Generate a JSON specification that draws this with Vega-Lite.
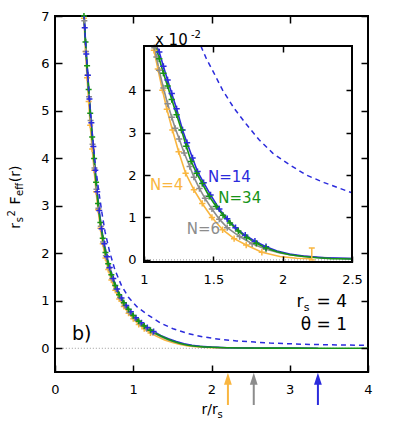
{
  "$schema": "https://vega.github.io/schema/vega-lite/v6.json",
  "width": 313,
  "height": 356,
  "autosize": {"type": "none"},
  "padding": {"left": 55, "top": 16, "right": 27, "bottom": 67},
  "config": {
    "font": "DejaVu Sans",
    "view": {"stroke": "black", "strokeWidth": 2},
    "axis": {"grid": false, "domain": false, "tickColor": "black", "tickWidth": 1.5, "labelFontSize": 13, "labelColor": "black", "labelFont": "DejaVu Sans"}
  },
  "datasets": {
    "main": [
      {"N": "4", "x": 0.355, "y": 7.5}, {"N": "4", "x": 0.37, "y": 6.95}, {"N": "4", "x": 0.39, "y": 6.25}, {"N": "4", "x": 0.41, "y": 5.7}, {"N": "4", "x": 0.43, "y": 5.2}, {"N": "4", "x": 0.45, "y": 4.7}, {"N": "4", "x": 0.475, "y": 4.2}, {"N": "4", "x": 0.5, "y": 3.75}, {"N": "4", "x": 0.525, "y": 3.3}, {"N": "4", "x": 0.55, "y": 2.92}, {"N": "4", "x": 0.58, "y": 2.53}, {"N": "4", "x": 0.61, "y": 2.2}, {"N": "4", "x": 0.645, "y": 1.9}, {"N": "4", "x": 0.68, "y": 1.66}, {"N": "4", "x": 0.72, "y": 1.44}, {"N": "4", "x": 0.77, "y": 1.22}, {"N": "4", "x": 0.82, "y": 1.04}, {"N": "4", "x": 0.88, "y": 0.88}, {"N": "4", "x": 0.94, "y": 0.74}, {"N": "4", "x": 1.0, "y": 0.62}, {"N": "4", "x": 1.07, "y": 0.5}, {"N": "4", "x": 1.14, "y": 0.41}, {"N": "4", "x": 1.22, "y": 0.32}, {"N": "4", "x": 1.3, "y": 0.25}, {"N": "4", "x": 1.4, "y": 0.175}, {"N": "4", "x": 1.5, "y": 0.12}, {"N": "4", "x": 1.6, "y": 0.08}, {"N": "4", "x": 1.7, "y": 0.05}, {"N": "4", "x": 1.8, "y": 0.032}, {"N": "4", "x": 1.95, "y": 0.016}, {"N": "4", "x": 2.1, "y": 0.008}, {"N": "4", "x": 2.21, "y": 0.005},
      {"N": "6", "x": 0.358, "y": 7.5}, {"N": "6", "x": 0.375, "y": 6.9}, {"N": "6", "x": 0.395, "y": 6.25}, {"N": "6", "x": 0.415, "y": 5.75}, {"N": "6", "x": 0.435, "y": 5.3}, {"N": "6", "x": 0.455, "y": 4.8}, {"N": "6", "x": 0.48, "y": 4.3}, {"N": "6", "x": 0.505, "y": 3.8}, {"N": "6", "x": 0.53, "y": 3.35}, {"N": "6", "x": 0.555, "y": 2.95}, {"N": "6", "x": 0.585, "y": 2.57}, {"N": "6", "x": 0.615, "y": 2.24}, {"N": "6", "x": 0.65, "y": 1.95}, {"N": "6", "x": 0.69, "y": 1.69}, {"N": "6", "x": 0.73, "y": 1.47}, {"N": "6", "x": 0.78, "y": 1.25}, {"N": "6", "x": 0.83, "y": 1.07}, {"N": "6", "x": 0.89, "y": 0.9}, {"N": "6", "x": 0.95, "y": 0.76}, {"N": "6", "x": 1.02, "y": 0.63}, {"N": "6", "x": 1.09, "y": 0.52}, {"N": "6", "x": 1.17, "y": 0.41}, {"N": "6", "x": 1.25, "y": 0.33}, {"N": "6", "x": 1.35, "y": 0.245}, {"N": "6", "x": 1.45, "y": 0.175}, {"N": "6", "x": 1.55, "y": 0.122}, {"N": "6", "x": 1.65, "y": 0.082}, {"N": "6", "x": 1.75, "y": 0.053}, {"N": "6", "x": 1.9, "y": 0.03}, {"N": "6", "x": 2.1, "y": 0.015}, {"N": "6", "x": 2.3, "y": 0.008}, {"N": "6", "x": 2.54, "y": 0.004},
      {"N": "14", "x": 0.362, "y": 7.5}, {"N": "14", "x": 0.38, "y": 6.75}, {"N": "14", "x": 0.4, "y": 6.2}, {"N": "14", "x": 0.42, "y": 5.75}, {"N": "14", "x": 0.44, "y": 5.25}, {"N": "14", "x": 0.465, "y": 4.75}, {"N": "14", "x": 0.49, "y": 4.25}, {"N": "14", "x": 0.515, "y": 3.75}, {"N": "14", "x": 0.54, "y": 3.3}, {"N": "14", "x": 0.565, "y": 2.9}, {"N": "14", "x": 0.595, "y": 2.52}, {"N": "14", "x": 0.63, "y": 2.2}, {"N": "14", "x": 0.665, "y": 1.93}, {"N": "14", "x": 0.7, "y": 1.7}, {"N": "14", "x": 0.745, "y": 1.47}, {"N": "14", "x": 0.795, "y": 1.25}, {"N": "14", "x": 0.85, "y": 1.06}, {"N": "14", "x": 0.91, "y": 0.9}, {"N": "14", "x": 0.97, "y": 0.77}, {"N": "14", "x": 1.035, "y": 0.645}, {"N": "14", "x": 1.105, "y": 0.535}, {"N": "14", "x": 1.18, "y": 0.44}, {"N": "14", "x": 1.26, "y": 0.355}, {"N": "14", "x": 1.35, "y": 0.27}, {"N": "14", "x": 1.45, "y": 0.2}, {"N": "14", "x": 1.55, "y": 0.14}, {"N": "14", "x": 1.65, "y": 0.095}, {"N": "14", "x": 1.75, "y": 0.062}, {"N": "14", "x": 1.85, "y": 0.042}, {"N": "14", "x": 2.0, "y": 0.024}, {"N": "14", "x": 2.2, "y": 0.012}, {"N": "14", "x": 2.5, "y": 0.005}, {"N": "14", "x": 2.8, "y": 0.003}, {"N": "14", "x": 3.1, "y": 0.002}, {"N": "14", "x": 3.36, "y": 0.001},
      {"N": "34", "x": 0.355, "y": 7.6}, {"N": "34", "x": 0.37, "y": 7.0}, {"N": "34", "x": 0.39, "y": 6.45}, {"N": "34", "x": 0.41, "y": 5.95}, {"N": "34", "x": 0.43, "y": 5.45}, {"N": "34", "x": 0.45, "y": 4.95}, {"N": "34", "x": 0.475, "y": 4.45}, {"N": "34", "x": 0.5, "y": 4.0}, {"N": "34", "x": 0.525, "y": 3.5}, {"N": "34", "x": 0.55, "y": 3.05}, {"N": "34", "x": 0.58, "y": 2.65}, {"N": "34", "x": 0.61, "y": 2.32}, {"N": "34", "x": 0.645, "y": 2.02}, {"N": "34", "x": 0.68, "y": 1.78}, {"N": "34", "x": 0.72, "y": 1.55}, {"N": "34", "x": 0.77, "y": 1.32}, {"N": "34", "x": 0.82, "y": 1.13}, {"N": "34", "x": 0.88, "y": 0.96}, {"N": "34", "x": 0.94, "y": 0.82}, {"N": "34", "x": 1.0, "y": 0.69}, {"N": "34", "x": 1.07, "y": 0.57}, {"N": "34", "x": 1.14, "y": 0.47}, {"N": "34", "x": 1.22, "y": 0.38}, {"N": "34", "x": 1.3, "y": 0.3}, {"N": "34", "x": 1.4, "y": 0.22}, {"N": "34", "x": 1.5, "y": 0.155}, {"N": "34", "x": 1.6, "y": 0.1}, {"N": "34", "x": 1.7, "y": 0.065}, {"N": "34", "x": 1.8, "y": 0.042}, {"N": "34", "x": 1.9, "y": 0.03}, {"N": "34", "x": 2.0, "y": 0.022}, {"N": "34", "x": 2.2, "y": 0.011}, {"N": "34", "x": 2.4, "y": 0.006}, {"N": "34", "x": 2.7, "y": 0.003}, {"N": "34", "x": 3.0, "y": 0.002}, {"N": "34", "x": 3.4, "y": 0.001}, {"N": "34", "x": 3.7, "y": 0.0}, {"N": "34", "x": 4.0, "y": 0.0}
    ],
    "dash": [
      {"x": 0.355, "y": 7.6}, {"x": 0.37, "y": 7.0}, {"x": 0.4, "y": 6.2}, {"x": 0.44, "y": 5.2}, {"x": 0.48, "y": 4.45}, {"x": 0.52, "y": 3.8}, {"x": 0.56, "y": 3.3}, {"x": 0.6, "y": 2.85}, {"x": 0.64, "y": 2.45}, {"x": 0.7, "y": 2.02}, {"x": 0.766, "y": 1.65}, {"x": 0.85, "y": 1.32}, {"x": 0.936, "y": 1.08}, {"x": 1.05, "y": 0.87}, {"x": 1.19, "y": 0.7}, {"x": 1.35, "y": 0.53}, {"x": 1.51, "y": 0.41}, {"x": 1.7, "y": 0.31}, {"x": 1.89, "y": 0.24}, {"x": 2.1, "y": 0.19}, {"x": 2.32, "y": 0.155}, {"x": 2.55, "y": 0.13}, {"x": 2.75, "y": 0.11}, {"x": 3.0, "y": 0.095}, {"x": 3.17, "y": 0.084}, {"x": 3.5, "y": 0.073}, {"x": 3.94, "y": 0.063}, {"x": 4.0, "y": 0.062}
    ],
    "inset": [
      {"N": "4", "x": 1.065, "v": 0.0504}, {"N": "4", "x": 1.072, "v": 0.0494}, {"N": "4", "x": 1.1, "v": 0.045}, {"N": "4", "x": 1.133, "v": 0.04}, {"N": "4", "x": 1.165, "v": 0.0355}, {"N": "4", "x": 1.205, "v": 0.0306}, {"N": "4", "x": 1.25, "v": 0.0255}, {"N": "4", "x": 1.3, "v": 0.0204}, {"N": "4", "x": 1.36, "v": 0.0165}, {"N": "4", "x": 1.42, "v": 0.0133}, {"N": "4", "x": 1.49, "v": 0.01}, {"N": "4", "x": 1.567, "v": 0.0071}, {"N": "4", "x": 1.65, "v": 0.005}, {"N": "4", "x": 1.737, "v": 0.0035}, {"N": "4", "x": 1.85, "v": 0.0018}, {"N": "4", "x": 1.98, "v": 0.0008}, {"N": "4", "x": 2.1, "v": 0.0004}, {"N": "4", "x": 2.21, "v": 0.0003},
      {"N": "6", "x": 1.075, "v": 0.05}, {"N": "6", "x": 1.09, "v": 0.0478}, {"N": "6", "x": 1.109, "v": 0.0447}, {"N": "6", "x": 1.14, "v": 0.0405}, {"N": "6", "x": 1.17, "v": 0.0368}, {"N": "6", "x": 1.2, "v": 0.0336}, {"N": "6", "x": 1.225, "v": 0.031}, {"N": "6", "x": 1.254, "v": 0.0285}, {"N": "6", "x": 1.29, "v": 0.0252}, {"N": "6", "x": 1.33, "v": 0.022}, {"N": "6", "x": 1.36, "v": 0.0195}, {"N": "6", "x": 1.4, "v": 0.0168}, {"N": "6", "x": 1.44, "v": 0.0145}, {"N": "6", "x": 1.49, "v": 0.012}, {"N": "6", "x": 1.543, "v": 0.0096}, {"N": "6", "x": 1.6, "v": 0.0076}, {"N": "6", "x": 1.69, "v": 0.0055}, {"N": "6", "x": 1.78, "v": 0.0038}, {"N": "6", "x": 1.88, "v": 0.0025}, {"N": "6", "x": 1.98, "v": 0.0016}, {"N": "6", "x": 2.1, "v": 0.001}, {"N": "6", "x": 2.25, "v": 0.0006}, {"N": "6", "x": 2.4, "v": 0.0004}, {"N": "6", "x": 2.5, "v": 0.0003},
      {"N": "14", "x": 1.09, "v": 0.0504}, {"N": "14", "x": 1.11, "v": 0.049}, {"N": "14", "x": 1.14, "v": 0.0456}, {"N": "14", "x": 1.17, "v": 0.0424}, {"N": "14", "x": 1.2, "v": 0.0392}, {"N": "14", "x": 1.235, "v": 0.0356}, {"N": "14", "x": 1.278, "v": 0.0306}, {"N": "14", "x": 1.31, "v": 0.0276}, {"N": "14", "x": 1.35, "v": 0.024}, {"N": "14", "x": 1.386, "v": 0.0208}, {"N": "14", "x": 1.43, "v": 0.0182}, {"N": "14", "x": 1.48, "v": 0.0153}, {"N": "14", "x": 1.543, "v": 0.012}, {"N": "14", "x": 1.6, "v": 0.0097}, {"N": "14", "x": 1.66, "v": 0.0076}, {"N": "14", "x": 1.73, "v": 0.0058}, {"N": "14", "x": 1.8, "v": 0.0044}, {"N": "14", "x": 1.88, "v": 0.0031}, {"N": "14", "x": 1.96, "v": 0.0021}, {"N": "14", "x": 2.05, "v": 0.0014}, {"N": "14", "x": 2.15, "v": 0.0009}, {"N": "14", "x": 2.3, "v": 0.0005}, {"N": "14", "x": 2.5, "v": 0.0003},
      {"N": "34", "x": 1.084, "v": 0.0504}, {"N": "34", "x": 1.11, "v": 0.0474}, {"N": "34", "x": 1.14, "v": 0.044}, {"N": "34", "x": 1.17, "v": 0.041}, {"N": "34", "x": 1.2, "v": 0.0378}, {"N": "34", "x": 1.235, "v": 0.0342}, {"N": "34", "x": 1.27, "v": 0.0306}, {"N": "34", "x": 1.305, "v": 0.0268}, {"N": "34", "x": 1.34, "v": 0.0232}, {"N": "34", "x": 1.38, "v": 0.0204}, {"N": "34", "x": 1.42, "v": 0.018}, {"N": "34", "x": 1.47, "v": 0.015}, {"N": "34", "x": 1.52, "v": 0.0126}, {"N": "34", "x": 1.57, "v": 0.0105}, {"N": "34", "x": 1.62, "v": 0.0087}, {"N": "34", "x": 1.68, "v": 0.0068}, {"N": "34", "x": 1.74, "v": 0.0053}, {"N": "34", "x": 1.81, "v": 0.0039}, {"N": "34", "x": 1.88, "v": 0.0028}, {"N": "34", "x": 1.96, "v": 0.0019}, {"N": "34", "x": 2.05, "v": 0.0012}, {"N": "34", "x": 2.15, "v": 0.0008}, {"N": "34", "x": 2.25, "v": 0.0005}, {"N": "34", "x": 2.35, "v": 0.0003}, {"N": "34", "x": 2.5, "v": 0.0002}
    ],
    "idash": [
      {"x": 1.41, "v": 0.0504}, {"x": 1.45, "v": 0.0474}, {"x": 1.5, "v": 0.0443}, {"x": 1.567, "v": 0.04}, {"x": 1.65, "v": 0.0357}, {"x": 1.737, "v": 0.032}, {"x": 1.83, "v": 0.0283}, {"x": 1.93, "v": 0.0251}, {"x": 2.05, "v": 0.0224}, {"x": 2.17, "v": 0.02}, {"x": 2.3, "v": 0.0182}, {"x": 2.4, "v": 0.017}, {"x": 2.5, "v": 0.0158}
    ]
  },
  "resolve": {"scale": {"x": "independent", "y": "independent"}, "axis": {"x": "independent", "y": "independent"}},
  "layer": [
    {
      "data": {"values": [{"x": 0.1, "x2": 4, "y": 0}]},
      "mark": {"type": "rule", "color": "#999999", "strokeWidth": 1, "strokeDash": [1, 2]},
      "encoding": {
        "x": {"field": "x", "type": "quantitative", "scale": {"domain": [0, 4], "nice": false, "zero": false}, "axis": {"orient": "top", "values": [1, 2, 3], "labels": false, "tickSize": -7, "title": null, "zindex": 1}},
        "x2": {"field": "x2"},
        "y": {"field": "y", "type": "quantitative", "scale": {"domain": [-0.5, 7], "nice": false, "zero": false}, "axis": {"orient": "right", "values": [0, 1, 2, 3, 4, 5, 6, 7], "labels": false, "tickSize": -7, "title": null, "zindex": 1}}
      }
    },
    {
      "data": {"name": "main"},
      "mark": {"type": "line", "clip": true, "strokeWidth": 1.6},
      "encoding": {
        "x": {"field": "x", "type": "quantitative", "scale": {"domain": [0, 4], "nice": false, "zero": false}, "axis": {"orient": "bottom", "values": [0, 1, 2, 3, 4], "tickSize": -7, "labelPadding": 18, "labelFlush": false, "title": null, "zindex": 1}},
        "y": {"field": "y", "type": "quantitative", "scale": {"domain": [-0.5, 7], "nice": false, "zero": false}, "axis": {"orient": "left", "values": [0, 1, 2, 3, 4, 5, 6, 7], "tickSize": -7, "labelPadding": 13, "title": null, "zindex": 1}},
        "color": {"field": "N", "type": "nominal", "scale": {"domain": ["4", "6", "14", "34"], "range": ["#f9b640", "#8c8c8c", "#2b2bdc", "#179417"]}, "legend": null}
      }
    },
    {
      "data": {"name": "main"},
      "transform": [{"filter": "datum.x < 1.3 && datum.y <= 7"}],
      "mark": {"type": "point", "shape": "M-1,0L1,0M0,-1L0,1", "filled": false, "strokeWidth": 1.5, "size": 36, "opacity": 1},
      "encoding": {
        "x": {"field": "x", "type": "quantitative", "scale": {"domain": [0, 4], "nice": false, "zero": false}, "axis": null},
        "y": {"field": "y", "type": "quantitative", "scale": {"domain": [-0.5, 7], "nice": false, "zero": false}, "axis": null},
        "color": {"field": "N", "type": "nominal", "legend": null}
      }
    },
    {
      "data": {"name": "dash"},
      "mark": {"type": "line", "clip": true, "strokeWidth": 1.5, "strokeDash": [5, 4], "color": "#2b2bdc"},
      "encoding": {
        "x": {"field": "x", "type": "quantitative", "scale": {"domain": [0, 4], "nice": false, "zero": false}, "axis": null},
        "y": {"field": "y", "type": "quantitative", "scale": {"domain": [-0.5, 7], "nice": false, "zero": false}, "axis": null}
      }
    },
    {
      "data": {"values": [{"t": "b)", "x": 0.217, "y": 0.18}]},
      "mark": {"type": "text", "fontSize": 19, "align": "left", "baseline": "alphabetic", "color": "black"},
      "encoding": {
        "x": {"field": "x", "type": "quantitative", "scale": {"domain": [0, 4], "nice": false, "zero": false}, "axis": null},
        "y": {"field": "y", "type": "quantitative", "scale": {"domain": [-0.5, 7], "nice": false, "zero": false}, "axis": null},
        "text": {"field": "t"}
      }
    },
    {
      "data": {"values": [{"t": "= 4", "x": 3.7316, "y": 0.869}, {"t": "r", "x": 3.175, "y": 0.869}, {"t": "θ = 1", "x": 3.7316, "y": 0.385}]},
      "mark": {"type": "text", "fontSize": 17, "align": "right", "baseline": "alphabetic", "color": "black"},
      "encoding": {
        "x": {"field": "x", "type": "quantitative", "scale": {"domain": [0, 4], "nice": false, "zero": false}, "axis": null},
        "y": {"field": "y", "type": "quantitative", "scale": {"domain": [-0.5, 7], "nice": false, "zero": false}, "axis": null},
        "text": {"field": "t"}
      }
    },
    {
      "data": {"values": [{"t": "s", "x": 3.252, "y": 0.785}]},
      "mark": {"type": "text", "fontSize": 11, "align": "right", "baseline": "alphabetic", "color": "black"},
      "encoding": {
        "x": {"field": "x", "type": "quantitative", "scale": {"domain": [0, 4], "nice": false, "zero": false}, "axis": null},
        "y": {"field": "y", "type": "quantitative", "scale": {"domain": [-0.5, 7], "nice": false, "zero": false}, "axis": null},
        "text": {"field": "t"}
      }
    },
    {
      "data": {"values": [{"t": "r", "x": -0.445, "y": 2.52}, {"t": "F", "x": -0.445, "y": 3.03}, {"t": "(r)", "x": -0.445, "y": 3.5}]},
      "mark": {"type": "text", "fontSize": 14, "angle": 270, "align": "left", "baseline": "alphabetic", "color": "black"},
      "encoding": {
        "x": {"field": "x", "type": "quantitative", "scale": {"domain": [0, 4], "nice": false, "zero": false}, "axis": null},
        "y": {"field": "y", "type": "quantitative", "scale": {"domain": [-0.5, 7], "nice": false, "zero": false}, "axis": null},
        "text": {"field": "t"}
      }
    },
    {
      "data": {"values": [{"t": "s", "x": -0.413, "y": 2.657}, {"t": "2", "x": -0.515, "y": 2.775}, {"t": "eff", "x": -0.413, "y": 3.21}]},
      "mark": {"type": "text", "fontSize": 10, "angle": 270, "align": "left", "baseline": "alphabetic", "color": "black"},
      "encoding": {
        "x": {"field": "x", "type": "quantitative", "scale": {"domain": [0, 4], "nice": false, "zero": false}, "axis": null},
        "y": {"field": "y", "type": "quantitative", "scale": {"domain": [-0.5, 7], "nice": false, "zero": false}, "axis": null},
        "text": {"field": "t"}
      }
    },
    {
      "data": {"values": [{"t": "r/r", "x": 1.872, "y": -1.385}]},
      "mark": {"type": "text", "fontSize": 14, "align": "left", "baseline": "alphabetic", "color": "black"},
      "encoding": {
        "x": {"field": "x", "type": "quantitative", "scale": {"domain": [0, 4], "nice": false, "zero": false}, "axis": null},
        "y": {"field": "y", "type": "quantitative", "scale": {"domain": [-0.5, 7], "nice": false, "zero": false}, "axis": null},
        "text": {"field": "t"}
      }
    },
    {
      "data": {"values": [{"t": "s", "x": 2.077, "y": -1.469}]},
      "mark": {"type": "text", "fontSize": 10, "align": "left", "baseline": "alphabetic", "color": "black"},
      "encoding": {
        "x": {"field": "x", "type": "quantitative", "scale": {"domain": [0, 4], "nice": false, "zero": false}, "axis": null},
        "y": {"field": "y", "type": "quantitative", "scale": {"domain": [-0.5, 7], "nice": false, "zero": false}, "axis": null},
        "text": {"field": "t"}
      }
    },
    {
      "data": {"values": [{"N": "4", "x": 2.21, "y": -1.195, "y2": -0.66}, {"N": "6", "x": 2.54, "y": -1.195, "y2": -0.66}, {"N": "14", "x": 3.36, "y": -1.195, "y2": -0.66}]},
      "mark": {"type": "rule", "strokeWidth": 2},
      "encoding": {
        "x": {"field": "x", "type": "quantitative", "scale": {"domain": [0, 4], "nice": false, "zero": false}, "axis": null},
        "y": {"field": "y", "type": "quantitative", "scale": {"domain": [-0.5, 7], "nice": false, "zero": false}, "axis": null},
        "y2": {"field": "y2"},
        "color": {"field": "N", "type": "nominal", "legend": null}
      }
    },
    {
      "data": {"values": [{"N": "4", "x": 2.21, "y": -0.64}, {"N": "6", "x": 2.54, "y": -0.64}, {"N": "14", "x": 3.36, "y": -0.64}]},
      "mark": {"type": "point", "shape": "M0,-1L0.65,1L-0.65,1Z", "filled": true, "size": 144, "opacity": 1},
      "encoding": {
        "x": {"field": "x", "type": "quantitative", "scale": {"domain": [0, 4], "nice": false, "zero": false}, "axis": null},
        "y": {"field": "y", "type": "quantitative", "scale": {"domain": [-0.5, 7], "nice": false, "zero": false}, "axis": null},
        "color": {"field": "N", "type": "nominal", "legend": null}
      }
    },
    {
      "data": {"values": [{"x": 1, "x2": 2.5, "v": -0.0005, "v2": 0.0504}]},
      "mark": {"type": "rect", "fill": "white", "strokeWidth": 0},
      "encoding": {
        "x": {"field": "x", "type": "quantitative", "scale": {"domain": [1, 2.5], "range": [89, 297], "nice": false, "zero": false}, "axis": {"orient": "bottom", "offset": -110, "values": [1, 1.5, 2, 2.5], "format": "~g", "tickSize": -6, "labelPadding": 17, "labelFlush": false, "title": null, "zindex": 1}},
        "x2": {"field": "x2"},
        "y": {"field": "v", "type": "quantitative", "scale": {"domain": [-0.0005, 0.0504], "range": [246, 30], "nice": false, "zero": false}, "axis": {"orient": "left", "offset": -89, "values": [0, 0.01, 0.02, 0.03, 0.04], "labelExpr": "format(datum.value*100, 'd')", "tickSize": -6, "labelPadding": 14, "title": null, "zindex": 1}},
        "y2": {"field": "v2"}
      }
    },
    {
      "data": {"values": [{"x": 1, "x2": 2.5, "v": 0}]},
      "mark": {"type": "rule", "color": "#999999", "strokeWidth": 1, "strokeDash": [1, 2]},
      "encoding": {
        "x": {"field": "x", "type": "quantitative", "scale": {"domain": [1, 2.5], "range": [89, 297], "nice": false, "zero": false}, "axis": null},
        "x2": {"field": "x2"},
        "y": {"field": "v", "type": "quantitative", "scale": {"domain": [-0.0005, 0.0504], "range": [246, 30], "nice": false, "zero": false}, "axis": null}
      }
    },
    {
      "data": {"name": "idash"},
      "mark": {"type": "line", "strokeWidth": 1.5, "strokeDash": [5, 4], "color": "#2b2bdc"},
      "encoding": {
        "x": {"field": "x", "type": "quantitative", "scale": {"domain": [1, 2.5], "range": [89, 297], "nice": false, "zero": false}, "axis": null},
        "y": {"field": "v", "type": "quantitative", "scale": {"domain": [-0.0005, 0.0504], "range": [246, 30], "nice": false, "zero": false}, "axis": null}
      }
    },
    {
      "data": {"name": "inset"},
      "mark": {"type": "line", "strokeWidth": 1.6},
      "encoding": {
        "x": {"field": "x", "type": "quantitative", "scale": {"domain": [1, 2.5], "range": [89, 297], "nice": false, "zero": false}, "axis": null},
        "y": {"field": "v", "type": "quantitative", "scale": {"domain": [-0.0005, 0.0504], "range": [246, 30], "nice": false, "zero": false}, "axis": null},
        "color": {"field": "N", "type": "nominal", "legend": null}
      }
    },
    {
      "data": {"name": "inset"},
      "transform": [{"filter": "datum.x < 1.95 && datum.v < 0.0503"}],
      "mark": {"type": "point", "shape": "M-1,0L1,0M0,-1L0,1", "filled": false, "strokeWidth": 1.5, "size": 40, "opacity": 1},
      "encoding": {
        "x": {"field": "x", "type": "quantitative", "scale": {"domain": [1, 2.5], "range": [89, 297], "nice": false, "zero": false}, "axis": null},
        "y": {"field": "v", "type": "quantitative", "scale": {"domain": [-0.0005, 0.0504], "range": [246, 30], "nice": false, "zero": false}, "axis": null},
        "color": {"field": "N", "type": "nominal", "legend": null}
      }
    },
    {
      "data": {"values": [{"N": "4", "x": 2.21, "v": 0, "v2": 0.0028}]},
      "mark": {"type": "rule", "strokeWidth": 1.5},
      "encoding": {
        "x": {"field": "x", "type": "quantitative", "scale": {"domain": [1, 2.5], "range": [89, 297], "nice": false, "zero": false}, "axis": null},
        "y": {"field": "v", "type": "quantitative", "scale": {"domain": [-0.0005, 0.0504], "range": [246, 30], "nice": false, "zero": false}, "axis": null},
        "y2": {"field": "v2"},
        "color": {"field": "N", "type": "nominal", "legend": null}
      }
    },
    {
      "data": {"values": [{"N": "4", "x": 2.21, "v": 0}, {"N": "4", "x": 2.21, "v": 0.0028}]},
      "mark": {"type": "point", "shape": "M-1,0L1,0", "filled": false, "strokeWidth": 1.5, "size": 36, "opacity": 1},
      "encoding": {
        "x": {"field": "x", "type": "quantitative", "scale": {"domain": [1, 2.5], "range": [89, 297], "nice": false, "zero": false}, "axis": null},
        "y": {"field": "v", "type": "quantitative", "scale": {"domain": [-0.0005, 0.0504], "range": [246, 30], "nice": false, "zero": false}, "axis": null},
        "color": {"field": "N", "type": "nominal", "legend": null}
      }
    },
    {
      "data": {"values": [{"N": "14", "t": "N=14", "x": 1.4615, "v": 0.01836}, {"N": "34", "t": "N=34", "x": 1.536, "v": 0.01329}, {"N": "4", "t": "N=4", "x": 1.0433, "v": 0.01647}, {"N": "6", "t": "N=6", "x": 1.308, "v": 0.0061}]},
      "mark": {"type": "text", "fontSize": 15, "align": "left", "baseline": "alphabetic"},
      "encoding": {
        "x": {"field": "x", "type": "quantitative", "scale": {"domain": [1, 2.5], "range": [89, 297], "nice": false, "zero": false}, "axis": null},
        "y": {"field": "v", "type": "quantitative", "scale": {"domain": [-0.0005, 0.0504], "range": [246, 30], "nice": false, "zero": false}, "axis": null},
        "color": {"field": "N", "type": "nominal", "legend": null},
        "text": {"field": "t"}
      }
    },
    {
      "data": {"values": [{"t": "x 10", "x": 1.079, "v": 0.0506}]},
      "mark": {"type": "text", "fontSize": 15, "align": "left", "baseline": "alphabetic", "color": "black"},
      "encoding": {
        "x": {"field": "x", "type": "quantitative", "scale": {"domain": [1, 2.5], "range": [89, 297], "nice": false, "zero": false}, "axis": null},
        "y": {"field": "v", "type": "quantitative", "scale": {"domain": [-0.0005, 0.0504], "range": [246, 30], "nice": false, "zero": false}, "axis": null},
        "text": {"field": "t"}
      }
    },
    {
      "data": {"values": [{"t": "-2", "x": 1.339, "v": 0.0523}]},
      "mark": {"type": "text", "fontSize": 10, "align": "left", "baseline": "alphabetic", "color": "black"},
      "encoding": {
        "x": {"field": "x", "type": "quantitative", "scale": {"domain": [1, 2.5], "range": [89, 297], "nice": false, "zero": false}, "axis": null},
        "y": {"field": "v", "type": "quantitative", "scale": {"domain": [-0.0005, 0.0504], "range": [246, 30], "nice": false, "zero": false}, "axis": null},
        "text": {"field": "t"}
      }
    },
    {
      "data": {"values": [{"x": 1, "x2": 2.5, "v": -0.0005, "v2": 0.0504}]},
      "mark": {"type": "rect", "fillOpacity": 0, "stroke": "black", "strokeWidth": 2},
      "encoding": {
        "x": {"field": "x", "type": "quantitative", "scale": {"domain": [1, 2.5], "range": [89, 297], "nice": false, "zero": false}, "axis": {"orient": "top", "offset": -30, "values": [1.5, 2], "labels": false, "tickSize": -6, "title": null, "zindex": 1}},
        "x2": {"field": "x2"},
        "y": {"field": "v", "type": "quantitative", "scale": {"domain": [-0.0005, 0.0504], "range": [246, 30], "nice": false, "zero": false}, "axis": {"orient": "right", "offset": -16, "values": [0.01, 0.02, 0.03, 0.04], "labels": false, "tickSize": -6, "title": null, "zindex": 1}},
        "y2": {"field": "v2"}
      }
    }
  ]
}
